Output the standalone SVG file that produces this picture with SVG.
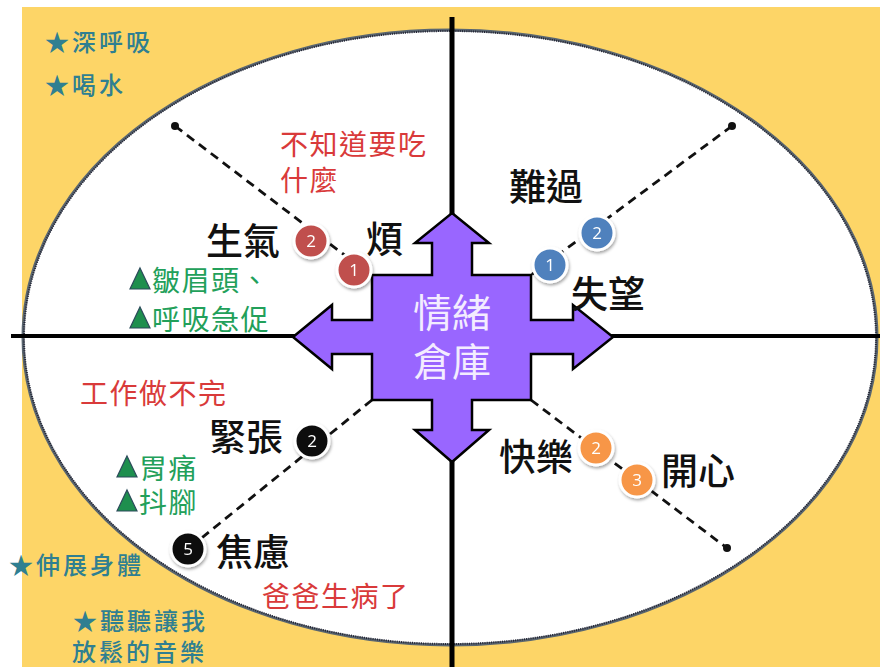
<svg xmlns="http://www.w3.org/2000/svg" width="880" height="667" viewBox="0 0 880 667">
<defs>
<style>
text{font-family:"Noto Sans CJK TC","Noto Sans CJK SC",sans-serif}
.teal{fill:#2f7f91;font-size:24px;letter-spacing:3px;font-weight:500}
.red{fill:#d93a3a;font-size:28px;letter-spacing:1.5px}
.grn{fill:#22a05a;font-size:28px;letter-spacing:1.5px}
.blk{fill:#111;font-size:37px;font-weight:500}
.num{fill:#fff;font-size:17px;text-anchor:middle;font-family:"Open Sans","Liberation Sans",sans-serif}
.dash{stroke:#111;stroke-width:2.8;stroke-dasharray:9 6;fill:none}
.ax{stroke:#000;fill:none}
.tri{fill:#1e8f4e;stroke:#2b4b5a;stroke-width:1.2}
</style>
<filter id="sh" x="-40%" y="-40%" width="180%" height="180%">
<feDropShadow dx="1" dy="2" stdDeviation="1.5" flood-color="#000" flood-opacity="0.35"/>
</filter>
</defs>
<rect width="880" height="667" fill="#fff"/>
<rect x="22" y="7" width="858" height="660" fill="#fdd567"/>
<ellipse cx="450" cy="337.5" rx="427" ry="307.5" fill="#fff" stroke="#5a6670" stroke-width="3"/>
<ellipse cx="450" cy="337.5" rx="426" ry="306.5" fill="none" stroke="#223" stroke-width="2" stroke-dasharray="1 1.2"/>
<g id="axes">
<line class="ax" x1="11" y1="336" x2="880" y2="336" stroke-width="4"/>
<line class="ax" x1="452" y1="17" x2="452" y2="667" stroke-width="5"/>
</g>
<g id="connectors">
<line class="dash" x1="175" y1="126" x2="372" y2="276"/>
<line class="dash" x1="732" y1="126" x2="531" y2="275"/>
<line class="dash" x1="372" y1="400" x2="188" y2="549"/>
<line class="dash" x1="531" y1="400" x2="727" y2="548"/>
<circle cx="175" cy="126" r="4" fill="#111"/>
<circle cx="732" cy="126" r="4" fill="#111"/>
<circle cx="727" cy="548" r="4" fill="#111"/>
</g>
<g id="center">
<path d="M452 213 L489 243 L472 243 L472 275 L531 275 L531 320 L573 320 L573 305 L613 337 L573 369 L573 354 L531 354 L531 400 L472 400 L472 430 L489 430 L452 462 L415 430 L432 430 L432 400 L372 400 L372 354 L332 354 L332 369 L293 337 L332 305 L332 320 L372 320 L372 275 L432 275 L432 243 L415 243 Z" fill="#9966ff" stroke="#000" stroke-width="2.5" stroke-linejoin="miter"/>
<text x="452" y="327" fill="#f3ecff" font-size="39" text-anchor="middle">情緒</text>
<text x="452" y="376" fill="#f3ecff" font-size="39" text-anchor="middle">倉庫</text>
</g>
<g id="badges" filter="url(#sh)">
<g id="r2"><circle cx="311" cy="241" r="17" fill="#c0504d" stroke="#fff" stroke-width="3"/><text class="num" x="311" y="247">2</text></g>
<g id="r1"><circle cx="354" cy="270" r="17" fill="#c0504d" stroke="#fff" stroke-width="3"/><text class="num" x="354" y="276">1</text></g>
<g id="b2"><circle cx="597" cy="233" r="17" fill="#4f81bd" stroke="#fff" stroke-width="3"/><text class="num" x="597" y="239">2</text></g>
<g id="b1"><circle cx="550" cy="265" r="17" fill="#4f81bd" stroke="#fff" stroke-width="3"/><text class="num" x="550" y="271">1</text></g>
<g id="k2"><circle cx="312" cy="441" r="17" fill="#111" stroke="#fff" stroke-width="3"/><text class="num" x="312" y="447">2</text></g>
<g id="k5"><circle cx="188" cy="549" r="17" fill="#111" stroke="#fff" stroke-width="3"/><text class="num" x="188" y="555">5</text></g>
<g id="o2"><circle cx="596" cy="448" r="17" fill="#f79646" stroke="#fff" stroke-width="3"/><text class="num" x="596" y="454">2</text></g>
<g id="o3"><circle cx="637" cy="480" r="17" fill="#f79646" stroke="#fff" stroke-width="3"/><text class="num" x="637" y="486">3</text></g>
</g>
<g id="labels">
<text class="teal" x="45" y="51">★深呼吸</text>
<text class="teal" x="45" y="94">★喝水</text>
<text class="red" x="280" y="155">不知道要吃</text>
<text class="red" x="280" y="191">什麼</text>
<text class="blk" x="206" y="255">生氣</text>
<text class="blk" x="366" y="253">煩</text>
<polygon class="tri" points="140,268 150,289 130,289"/>
<text class="grn" x="152" y="291">皺眉頭、</text>
<polygon class="tri" points="140,307 150,328 130,328"/>
<text class="grn" x="152" y="330">呼吸急促</text>
<text class="blk" x="509" y="201">難過</text>
<text class="blk" x="571" y="308">失望</text>
<text class="red" x="80" y="404">工作做不完</text>
<text class="blk" x="209" y="451">緊張</text>
<polygon class="tri" points="127,456 137,477 117,477"/>
<text class="grn" x="139" y="479">胃痛</text>
<polygon class="tri" points="127,490 137,511 117,511"/>
<text class="grn" x="139" y="513">抖腳</text>
<text class="blk" x="216" y="566">焦慮</text>
<text class="red" x="262" y="607">爸爸生病了</text>
<text class="teal" x="9" y="574">★伸展身體</text>
<text class="teal" x="73" y="630">★聽聽讓我</text>
<text class="teal" x="72" y="661">放鬆的音樂</text>
<text class="blk" x="499" y="471">快樂</text>
<text class="blk" x="661" y="485">開心</text>
</g>
</svg>
